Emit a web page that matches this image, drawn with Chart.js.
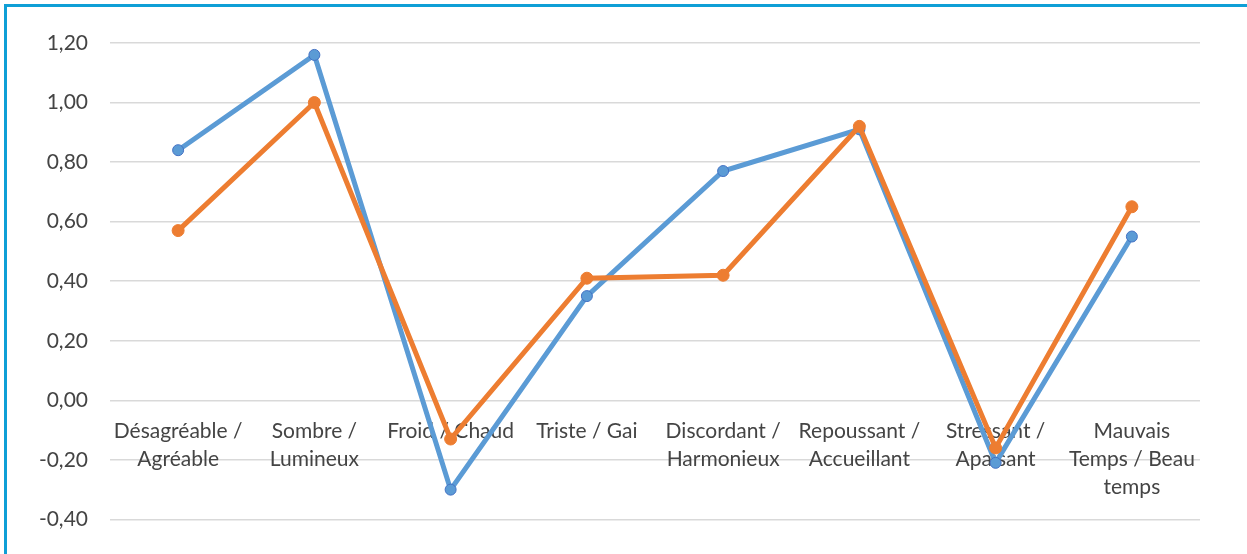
<!DOCTYPE html>
<html>
<head>
<meta charset="utf-8">
<script src="https://cdn.jsdelivr.net/npm/chart.js@4"></script>
<style>
  body { margin: 0; background: #fff; overflow: hidden; }
  .frame {
    position: absolute; left: 4px; top: 4px; width: 1300px; height: 600px;
    border-top: 3px solid #0f9fd6; border-left: 3px solid #0f9fd6;
  }
  .wrap { position: absolute; left: 7px; top: 7px; width: 1240px; height: 547px; }
</style>
</head>
<body>
<div class="frame"></div>
<div class="wrap"><canvas id="myChart"></canvas></div>
<script>
// categories (multi-line labels)
var categories = [
  ["Désagréable /", "Agréable"],
  ["Sombre /", "Lumineux"],
  "Froid / Chaud",
  "Triste / Gai",
  ["Discordant /", "Harmonieux"],
  ["Repoussant /", "Accueillant"],
  ["Stressant /", "Apaisant"],
  ["Mauvais", "Temps / Beau", "temps"]
];
var blueValues = [0.84, 1.16, -0.30, 0.35, 0.77, 0.91, -0.21, 0.55];
var orangeValues = [0.57, 1.00, -0.13, 0.41, 0.42, 0.92, -0.16, 0.65];
var yMin = -0.4;
var yMax = 1.2;
var yStep = 0.2;

var ctx = document.getElementById("myChart").getContext("2d");
var chart = new Chart(ctx, {
  type: "line",
  data: {
    labels: categories,
    datasets: [
      {
        label: "Série 1",
        data: blueValues,
        borderColor: "#5b9bd5",
        backgroundColor: "#5b9bd5",
        pointBorderColor: "#4472c4",
        pointBorderWidth: 1,
        pointRadius: 5.5,
        borderWidth: 5,
        tension: 0,
        order: 1
      },
      {
        label: "Série 2",
        data: orangeValues,
        borderColor: "#ed7d31",
        backgroundColor: "#ed7d31",
        pointBorderColor: "#ed7d31",
        pointBorderWidth: 1,
        pointRadius: 6,
        borderWidth: 5,
        tension: 0,
        order: 0
      }
    ]
  },
  options: {
    responsive: true,
    maintainAspectRatio: false,
    animation: false,
    layout: { padding: { top: 36, right: 47, bottom: 33, left: 0 } },
    plugins: { legend: { display: false }, tooltip: { enabled: false } },
    scales: {
      x: {
        position: { y: 0 },
        offset: true,
        grid: { display: false, drawTicks: false },
        border: { display: false },
        ticks: {
          padding: 17,
          maxRotation: 0,
          autoSkip: false,
          color: "#444",
          font: { family: "Lato", size: 21, lineHeight: 1.34 }
        }
      },
      y: {
        min: yMin,
        max: yMax,
        afterFit: function (scale) { scale.width = 103; },
        grid: { color: "#d9d9d9", lineWidth: 1.5, drawTicks: false },
        border: { display: false },
        ticks: {
          stepSize: yStep,
          padding: 22,
          color: "#444",
          font: { family: "Lato", size: 21 },
          callback: function (v) { return v.toFixed(2).replace(".", ","); }
        }
      }
    }
  }
});
</script>
</body>
</html>
